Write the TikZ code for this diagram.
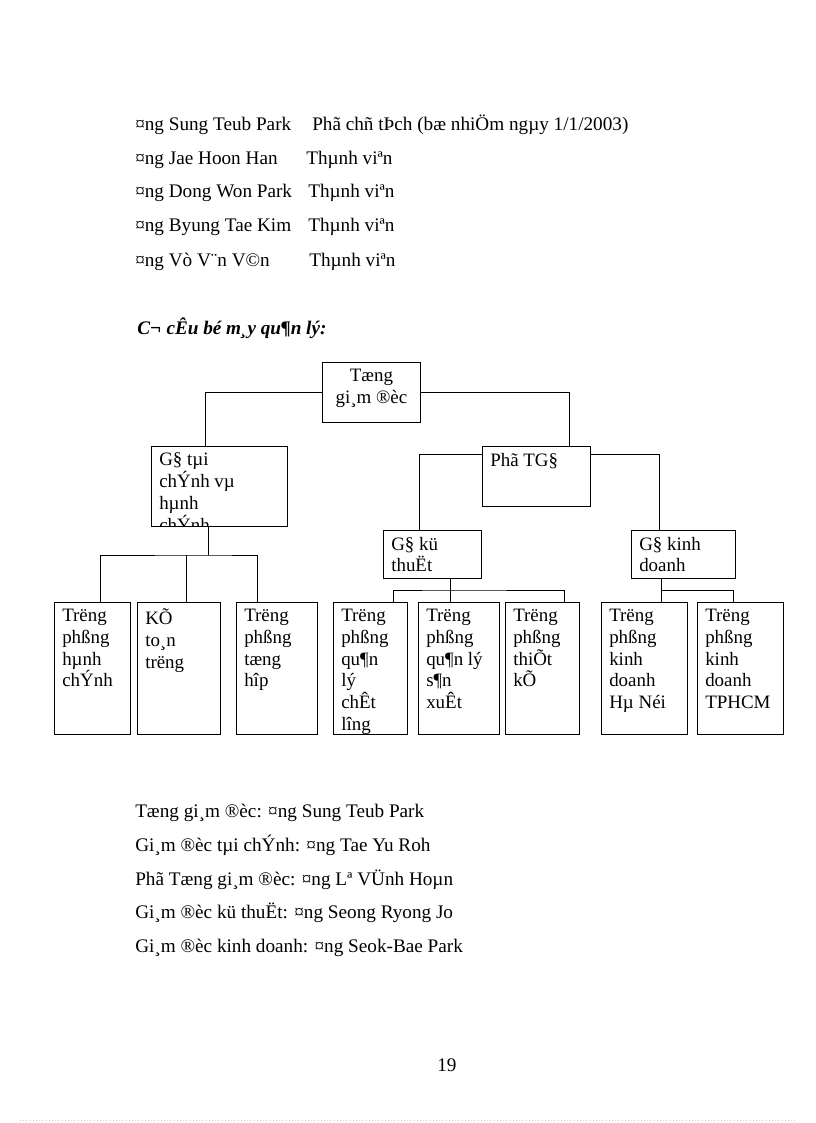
\documentclass[tikz,border=0pt]{standalone}
\usepackage{fontspec}
\setmainfont{Liberation Serif}
\begin{document}
\begin{tikzpicture}[x=0.75pt,y=-0.75pt,
  boxst/.style={draw,line width=0.6pt,anchor=north west,inner sep=0pt},
  txt/.style={anchor=base west,inner sep=0pt,font=\fontsize{14.4pt}{16pt}\selectfont},
  btxt/.style={anchor=north west,inner sep=0pt,align=left,font=\fontsize{14.2pt}{16.4pt}\selectfont},
  ln/.style={line width=0.6pt}]
\useasboundingbox (0,0) rectangle (816,1123);
\newcommand{\bx}[6]{%
  \node[boxst,minimum width=#4*0.75pt,minimum height=#5*0.75pt] (#1) at (#2,#3) {};
  \begin{scope}\clip (#1.south west) rectangle (#1.north east);
  \node[btxt] at ([xshift=6pt,yshift=-5pt]#1.north west) {#6};
  \end{scope}}
% top text
\node[txt] (a1) at (135,131) {¤ng Sung Teub Park};
\node[txt] (b1) at (312,131) {Phã chñ tÞch (bæ nhiÖm ngµy 1/1/2003)};
\node[txt] (a2) at (135,165) {¤ng Jae Hoon Han};
\node[txt] (b2) at (306,165) {Thµnh viªn};
\node[txt] (a3) at (135,198) {¤ng Dong Won Park};
\node[txt] (b3) at (308,198) {Thµnh viªn};
\node[txt] (a4) at (135,232) {¤ng Byung Tae Kim};
\node[txt] (b4) at (308,232) {Thµnh viªn};
\node[txt] (a5) at (135,266) {¤ng Vò V¨n V©n};
\node[txt] (b5) at (309,266) {Thµnh viªn};
\node[txt,font=\fontsize{14.4pt}{16pt}\selectfont\bfseries\itshape] (hd) at (137,334) {C¬ cÊu bé m¸y qu¶n lý:};
% boxes
\node[boxst,minimum width=98*0.75pt,minimum height=60*0.75pt] (tgd) at (322,362) {};
\node[btxt,align=center,anchor=north] at ([yshift=-5pt]tgd.north) {Tæng\\gi¸m ®èc};
\bx{tc}{151}{446}{136}{80}{G§ tµi\\chÝnh vµ\\hµnh\\chÝnh}
\bx{ptgd}{482}{446}{108}{60}{Phã TG§}
\bx{kt}{383}{530}{98}{48}{G§ kü\\thuËt}
\bx{kd}{631}{530}{104}{48}{G§ kinh\\doanh}
\bx{l1}{54}{602}{76}{132}{Trëng\\phßng\\hµnh\\chÝnh}
\bx{l2}{137}{602}{83}{132}{KÕ\\to¸n\\trëng}
\bx{l3}{236}{602}{81}{132}{Trëng\\phßng\\tæng\\hîp}
\bx{l4}{333}{602}{74}{132}{Trëng\\phßng\\qu¶n\\lý\\chÊt\\l­îng}
\bx{l5}{418}{602}{81}{132}{Trëng\\phßng\\qu¶n lý\\s¶n\\xuÊt}
\bx{l6}{505}{602}{74}{132}{Trëng\\phßng\\thiÕt\\kÕ}
\bx{l7}{601}{602}{86}{132}{Trëng\\phßng\\kinh\\doanh\\Hµ Néi}
\bx{l8}{697}{602}{86}{132}{Trëng\\phßng\\kinh\\doanh\\TPHCM}
% connectors
\draw[ln] (tgd.west) -| (tc.north -| 205,0);
\draw[ln] (tgd.east) -| (ptgd.north -| 569,0);
\draw[ln] ([yshift=-6pt]ptgd.north west) -| (kt.north -| 419,0);
\draw[ln] ([yshift=-6pt]ptgd.north east) -| (kd.north -| 659,0);
\coordinate (h1) at (208,555);
\draw[ln] (tc.south -| h1) -- (h1);
\draw[ln] (l1.north -| 100,0) |- (h1) -| (l3.north -| 257,0);
\draw[ln] (h1 -| 186,0) -- (l2.north -| 186,0);
\coordinate (h2) at (450,590);
\draw[ln] (kt.south -| h2) -- (h2);
\draw[ln] (l4.north -| 393,0) |- (h2) -| (l6.north -| 564,0);
\draw[ln] (h2) -- (l5.north -| h2);
\coordinate (h3) at (661,590);
\draw[ln] (kd.south -| h3) -- (l7.north -| h3);
\draw[ln] (h3) -| (l8.north -| 733,0);
% bottom text
\node[txt] (c1) at (135,817) {Tæng gi¸m ®èc: ¤ng Sung Teub Park};
\node[txt] (c2) at (135,851) {Gi¸m ®èc tµi chÝnh: ¤ng Tae Yu Roh};
\node[txt] (c3) at (135,885) {Phã Tæng gi¸m ®èc: ¤ng Lª VÜnh Hoµn};
\node[txt] (c4) at (135,918) {Gi¸m ®èc kü thuËt: ¤ng Seong Ryong Jo};
\node[txt] (c5) at (135,952) {Gi¸m ®èc kinh doanh: ¤ng Seok-Bae Park};
\node[txt] (pg) at (437,1071) {19};
\draw[gray!40,dotted] (20,1120) -- (796,1120);
\end{tikzpicture}
\end{document}
